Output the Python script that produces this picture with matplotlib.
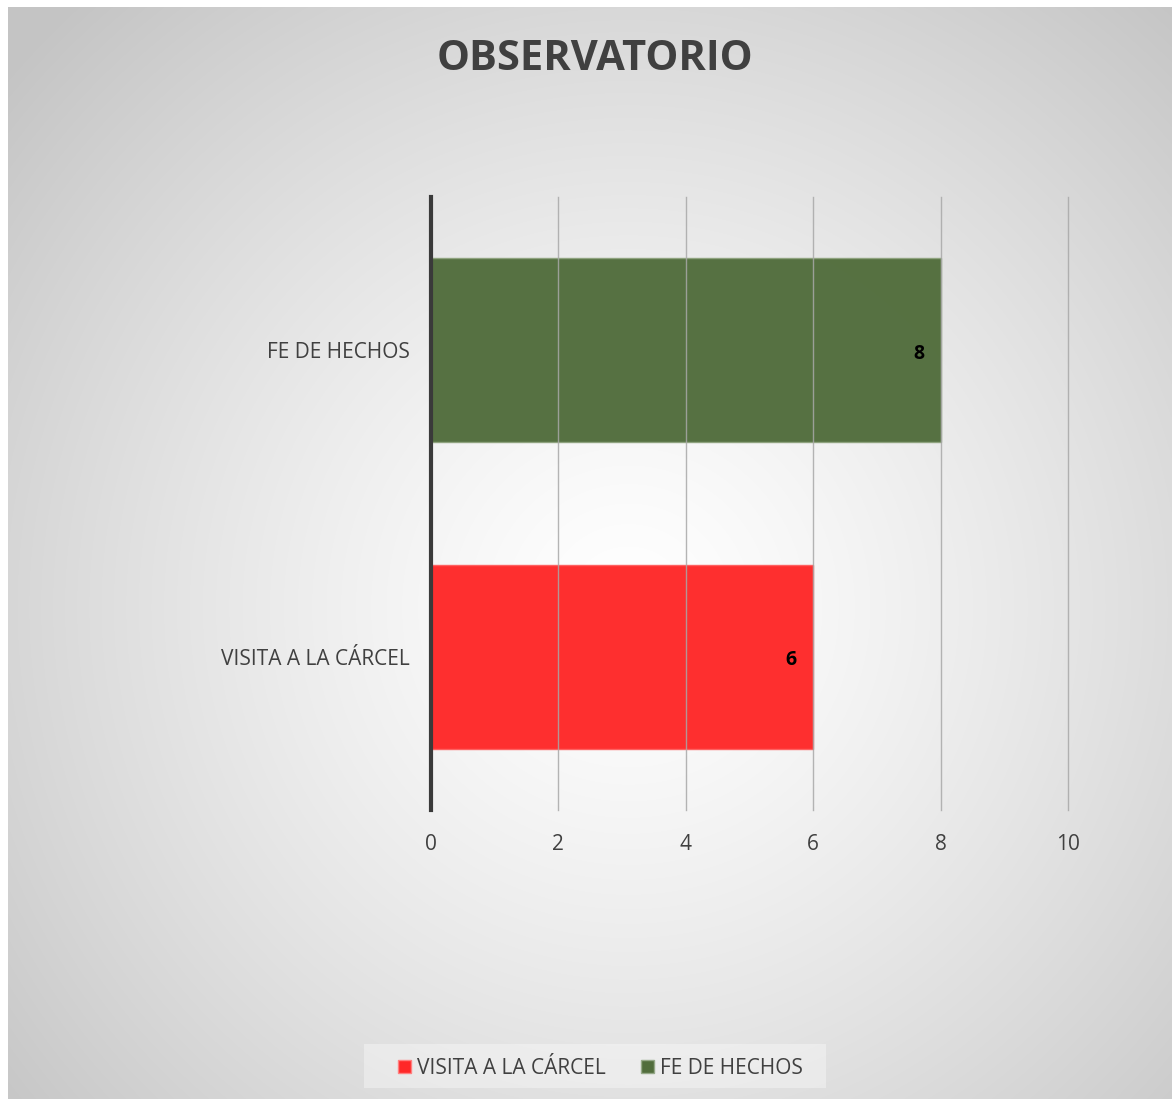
import numpy as np
import matplotlib
matplotlib.use("Agg")
import matplotlib.pyplot as plt
from matplotlib.patches import Rectangle

categories = ["VISITA A LA CÁRCEL", "FE DE HECHOS"]
values = [6, 8]
colors = ["#FF2828", "#516D3C"]
xticks = [0, 2, 4, 6, 8, 10]
title = "OBSERVATORIO"

plt.rcParams['font.family'] = ['Open Sans', 'DejaVu Sans']

W, H = 1172, 1099
fig = plt.figure(figsize=(W / 100, H / 100), dpi=100)
fig.patch.set_facecolor("white")

# background radial gradient
bg = fig.add_axes([8 / W, 0, (W - 8) / W, (H - 7) / H], zorder=-10)
yy, xx = np.mgrid[0:H - 7, 0:W - 8]
cx, cy = 620, 600
r = np.sqrt((xx - cx) ** 2 + (yy - cy) ** 2)
r = np.clip(r / 820.0, 0, 1)
val = 1.0 - 0.23 * r ** 1.3
img = np.dstack([val, val, val])
bg.imshow(img, aspect="auto", interpolation="bilinear")
bg.axis("off")

# main axes
x0, x1 = 431, 1068
y0, y1 = 197, 810
ax = fig.add_axes([x0 / W, 1 - y1 / H, (x1 - x0) / W, (y1 - y0) / H])
ax.set_facecolor("none")
ypos = np.arange(len(categories))
ax.barh(ypos, values, height=0.6, color=colors, alpha=0.97, zorder=2,
        edgecolor=["#FF6060", "#8FA37F"], linewidth=1)
ax.set_xlim(0, 10)
ax.set_ylim(-0.5, 1.5)
ax.set_xticks(xticks)
ax.set_xticklabels([str(t) for t in xticks], fontsize=15, color="#404040")
ax.set_yticks(ypos)
ax.set_yticklabels(categories, fontsize=15, color="#404040")
ax.tick_params(axis="both", length=0)
ax.tick_params(axis="y", pad=15)
ax.tick_params(axis="x", pad=17.5)
for t in xticks[1:]:
    ax.axvline(t, color="#A8A8A8", linewidth=1, zorder=3, alpha=0.85,
               clip_on=False)
for s in ["top", "right", "bottom"]:
    ax.spines[s].set_visible(False)
ax.spines["left"].set_color("#3A3A3A")
ax.spines["left"].set_linewidth(3)
ax.spines["left"].set_zorder(4)

for y, v in zip(ypos, values):
    ax.annotate(str(v), xy=(v, y), xytext=(-16, -2.5), textcoords="offset points",
                ha="center", va="center", fontsize=14, fontweight="bold",
                color="black", zorder=5)

fig.text(595 / W, 1 - 60 / H, title, ha="center", va="center",
         fontsize=30, fontweight="bold", color="#404040")

# legend
lg_ax = fig.add_axes([364 / W, 1 - 1088 / H, (826 - 364) / W, (1088 - 1044) / H])
lg_ax.set_xlim(364, 826)
lg_ax.set_ylim(1088, 1044)
lg_ax.axis("off")
lg_ax.add_patch(Rectangle((364, 1044), 462, 44, facecolor="white", alpha=0.35,
                          edgecolor="none"))
items = [(398, categories[0], colors[0], "#FF8080"),
         (641, categories[1], colors[1], "#95A888")]
for xs, lab, c, ec in items:
    lg_ax.add_patch(Rectangle((xs, 1060), 13, 13, facecolor=c, edgecolor=ec,
                              linewidth=1))
    lg_ax.text(xs + 19, 1068, lab, ha="left", va="center", fontsize=15,
               color="#404040")

fig.savefig("out.png", dpi=100)
